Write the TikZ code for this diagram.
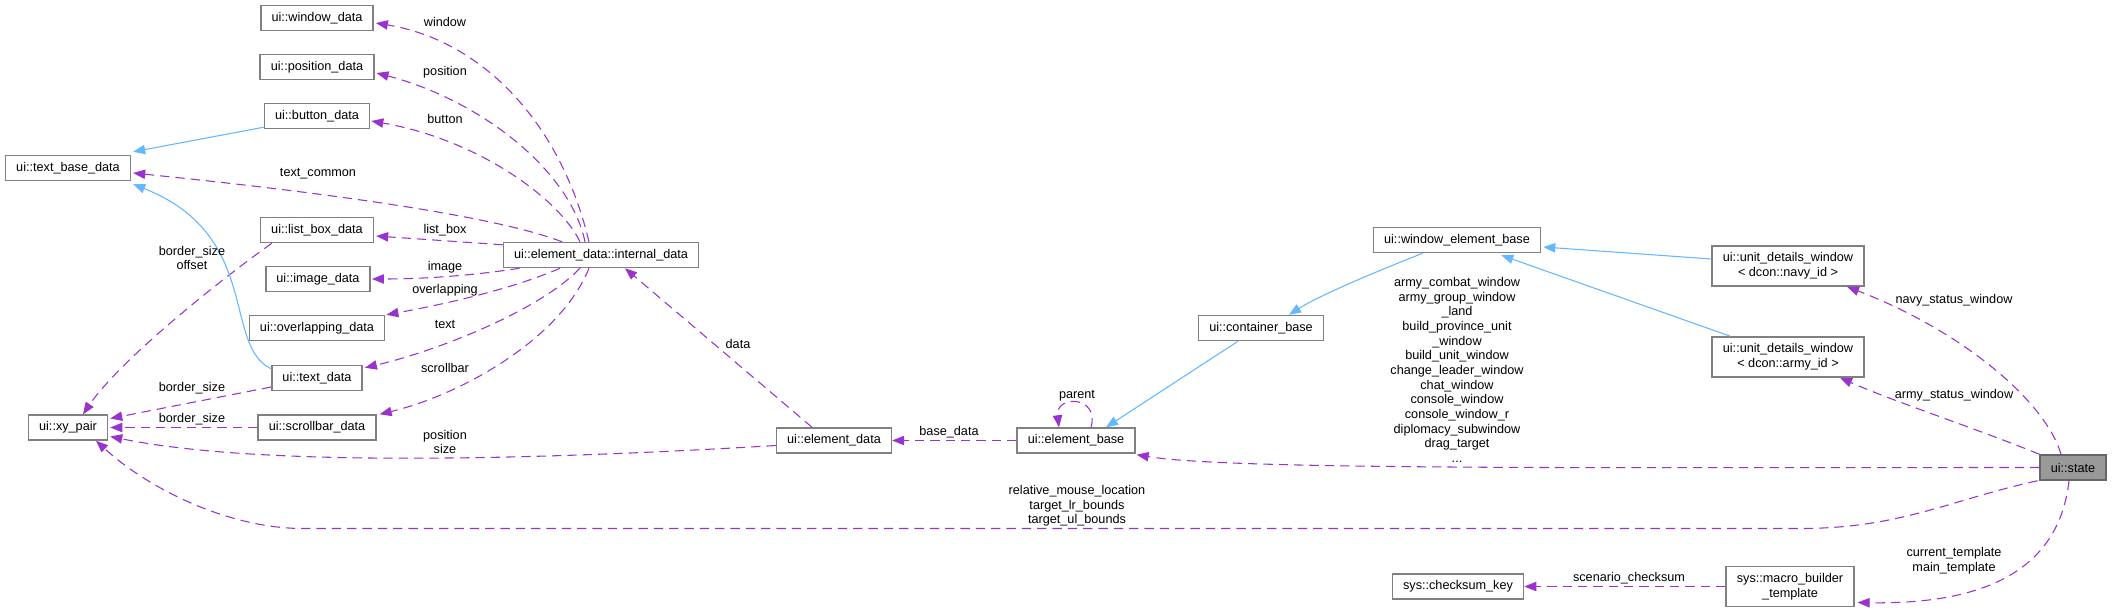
\documentclass[tikz,border=0pt]{standalone}
\usepackage{fontspec}
\setmainfont{Liberation Sans}
\usetikzlibrary{arrows.meta,calc}
\definecolor{edgepurple}{HTML}{9A32CD}
\definecolor{edgeblue}{HTML}{63B8FF}
\definecolor{boxgray}{HTML}{808080}
\definecolor{curfill}{HTML}{999999}
\definecolor{curborder}{HTML}{666666}
\begin{document}
\begin{tikzpicture}[x=0.75pt,y=-0.75pt,
  cls/.style={draw=boxgray, line width=1.1pt, fill=white, inner xsep=8pt, inner ysep=2pt,
              minimum height=18.75pt, font=\fontsize{9.5}{11}\selectfont, align=center},
  cur/.style={cls, fill=curfill, draw=curborder},
  two/.style={minimum height=30pt},
  lbl/.style={font=\fontsize{9.5}{11}\selectfont, align=center, inner sep=0pt},
  mem/.style={draw=edgepurple, line width=0.8pt, dash pattern=on 7pt off 4.5pt,
              -{Triangle[length=9pt,width=7pt]}},
  inh/.style={draw=edgeblue, line width=0.8pt, -{Triangle[length=9pt,width=7pt]}}]
\path[use as bounding box, fill=white] (0,0) rectangle (2112,611);

% nodes
\node[cls] (wd)  at (317,18)  {ui::window\_data};
\node[cls] (pd)  at (317,67)  {ui::position\_data};
\node[cls] (bd)  at (317,116) {ui::button\_data};
\node[cls] (tbd) at (68,168)  {ui::text\_base\_data};
\node[cls] (lbd) at (317,230) {ui::list\_box\_data};
\node[cls] (imd) at (318,279) {ui::image\_data};
\node[cls] (id)  at (601,255) {ui::element\_data::internal\_data};
\node[cls] (ovd) at (317,328) {ui::overlapping\_data};
\node[cls] (txd) at (317,378) {ui::text\_data};
\node[cls] (xy)  at (68,427.5)  {ui::xy\_pair};
\node[cls] (sbd) at (317,427.5) {ui::scrollbar\_data};
\node[cls] (ed)  at (834,440.5) {ui::element\_data};
\node[cls] (eb)  at (1076,440.5) {ui::element\_base};
\node[cls] (cb)  at (1261,328) {ui::container\_base};
\node[cls] (web) at (1457,240) {ui::window\_element\_base};
\node[cls,two] (udn) at (1788,266) {ui::unit\_details\_window\\< dcon::navy\_id >};
\node[cls,two] (uda) at (1788,357) {ui::unit\_details\_window\\< dcon::army\_id >};
\node[cur] (st)  at (2073,467.5) {ui::state};
\node[cls] (ck)  at (1458,586.5) {sys::checksum\_key};
\node[cls,two] (mbt) at (1790,586.5) {sys::macro\_builder\\\_template};

% member edges
\draw[mem] ($(id.north)+(-12,0)$) .. controls (560,120) and (480,40) .. ($(wd.east)+(2,5)$);
\draw[mem] ($(id.north)+(-16,0)$) .. controls (570,170) and (480,100) .. ($(pd.east)+(2,6)$);
\draw[mem] ($(id.north)+(-21,0)$) .. controls (560,200) and (480,140) .. ($(bd.east)+(1,5)$);
\draw[mem] ($(id.north)+(-39,0)$) .. controls (480,210) and (250,185) .. ($(tbd.east)+(2,5)$);
\draw[mem] ($(id.north west)+(0,3)$) -- ($(lbd.east)+(2,6)$);
\draw[mem] ($(id.south west)+(17,0)$) .. controls (470,276) and (420,279) .. ($(imd.east)+(1,0)$);
\draw[mem] ($(id.south)+(-41,0)$) .. controls (510,290) and (440,305) .. ($(ovd.north east)+(1,0)$);
\draw[mem] ($(id.south)+(-21,0)$) .. controls (540,310) and (440,350) .. ($(txd.north east)+(2,3)$);
\draw[mem] ($(id.south)+(-12,0)$) .. controls (560,340) and (460,395) .. ($(sbd.north east)+(3,0)$);
\draw[mem] ($(ed.north)+(-22,0)$) -- ($(id.south)+(24,0)$);
\draw[mem] ($(ed.west)+(0,5)$) .. controls (500,462) and (250,465) .. ($(xy.east)+(2,9)$);
\draw[mem] ($(lbd.south west)+(12,0)$) .. controls (220,280) and (120,360) .. ($(xy.north)+(15,0)$);
\draw[mem] ($(txd.west)+(0,9)$) -- ($(xy.east)+(2,-9)$);
\draw[mem] (sbd.west) -- ($(xy.east)+(2,0)$);
\draw[mem] (eb.west) -- (ed.east);
\draw[mem] ($(eb.north)+(15,0)$) .. controls (1100,395) and (1055,395) .. ($(eb.north)+(-17,0)$);
\draw[mem] (st.west) .. controls (1600,467.5) and (1230,470) .. ($(eb.south east)+(1,1)$);
\draw[mem] ($(st.south west)+(-2,0)$) .. controls (1950,500) and (1900,528.5) .. (1800,528.5)
   -- (303,528.5) .. controls (230,528.5) and (150,490) .. ($(xy.south)+(28,0)$);
\draw[mem] ($(st.north)+(-12,0)$) .. controls (2045,400) and (1960,330) .. ($(udn.south)+(59,0)$);
\draw[mem] (st.north west) .. controls (1980,430) and (1890,400) .. ($(uda.south)+(52,0)$);
\draw[mem] ($(st.south)+(-4,0)$) .. controls (2060,560) and (2000,605) .. ($(mbt.east)+(3,16)$);
\draw[mem] (mbt.west) -- (ck.east);

% inheritance edges
\draw[inh] ($(bd.south west)+(0,-2)$) -- ($(tbd.north east)+(2,-3)$);
\draw[inh] ($(txd.north west)+(0,4)$) .. controls (222,345) and (262,235) .. ($(tbd.south east)+(2,3)$);
\draw[inh] ($(cb.south)+(-23,0)$) -- ($(eb.north)+(30,0)$);
\draw[inh] ($(web.south west)+(50,0)$) .. controls (1380,270) and (1320,295) .. ($(cb.north)+(28,0)$);
\draw[inh] ($(udn.west)+(0,-7)$) -- ($(web.east)+(2,7)$);
\draw[inh] ($(uda.north west)+(19,0)$) -- ($(web.south east)+(-40,2)$);

% labels
\node[lbl] (l1)  at (445,22)  {window};
\node[lbl] (l2)  at (445,72)  {position};
\node[lbl] (l3)  at (445,119) {button};
\node[lbl] (l4)  at (318,174) {text\_common};
\node[lbl] (l5)  at (445,230) {list\_box};
\node[lbl] (l6)  at (192,258) {border\_size\\offset};
\node[lbl] (l7)  at (445,267) {image};
\node[lbl] (l8)  at (445,290) {overlapping};
\node[lbl] (l9)  at (445,324) {text};
\node[lbl] (l10) at (445,368) {scrollbar};
\node[lbl] (l11) at (192,388) {border\_size};
\node[lbl] (l12) at (192,419) {border\_size};
\node[lbl] (l13) at (445,442) {position\\size};
\node[lbl] (l14) at (738,344) {data};
\node[lbl] (l15) at (1077,396) {parent};
\node[lbl] (l16) at (949,432) {base\_data};
\node[lbl] (l17) at (1077,506) {relative\_mouse\_location\\target\_lr\_bounds\\target\_ul\_bounds};
\node[lbl] (l18) at (1457,370) {army\_combat\_window\\army\_group\_window\\\_land\\build\_province\_unit\\\_window\\build\_unit\_window\\change\_leader\_window\\chat\_window\\console\_window\\console\_window\_r\\diplomacy\_subwindow\\drag\_target\\...};
\node[lbl] (l19) at (1954,300) {navy\_status\_window};
\node[lbl] (l20) at (1954,395) {army\_status\_window};
\node[lbl] (l21) at (1954,561) {current\_template\\main\_template};
\node[lbl] (l22) at (1629,578) {scenario\_checksum};
\end{tikzpicture}
\end{document}
